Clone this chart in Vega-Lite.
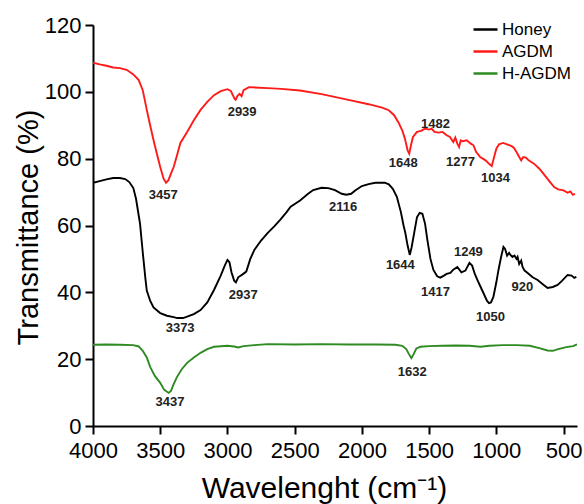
{
  "$schema": "https://vega.github.io/schema/vega-lite/v6.json",
  "width": 484,
  "height": 401,
  "autosize": {"type": "none"},
  "padding": {"left": 93, "top": 25, "right": 7, "bottom": 78},
  "background": "white",
  "config": {
    "view": {"stroke": null},
    "font": "Liberation Sans",
    "axis": {
      "grid": false,
      "domainColor": "#000000",
      "domainWidth": 2,
      "tickColor": "#000000",
      "tickWidth": 2,
      "labelColor": "#000000",
      "titleColor": "#000000",
      "labelFont": "Liberation Sans",
      "titleFont": "Liberation Sans",
      "titleFontWeight": "normal",
      "labelFontSize": 22,
      "labelOverlap": false,
      "labelFlush": false
    }
  },
  "datasets": {
    "spectra": [
      {"series": "AGDM", "wn": 4000, "t": 108.7},
      {"series": "AGDM", "wn": 3950, "t": 108.2},
      {"series": "AGDM", "wn": 3900, "t": 107.8},
      {"series": "AGDM", "wn": 3850, "t": 107.3},
      {"series": "AGDM", "wn": 3800, "t": 107.1},
      {"series": "AGDM", "wn": 3750, "t": 106.6},
      {"series": "AGDM", "wn": 3700, "t": 105.2},
      {"series": "AGDM", "wn": 3660, "t": 103.5},
      {"series": "AGDM", "wn": 3630, "t": 100.5},
      {"series": "AGDM", "wn": 3600, "t": 94.6},
      {"series": "AGDM", "wn": 3575, "t": 90},
      {"series": "AGDM", "wn": 3550, "t": 85.6},
      {"series": "AGDM", "wn": 3525, "t": 81.5},
      {"series": "AGDM", "wn": 3500, "t": 77.5},
      {"series": "AGDM", "wn": 3475, "t": 74},
      {"series": "AGDM", "wn": 3457, "t": 72.8},
      {"series": "AGDM", "wn": 3440, "t": 73.5},
      {"series": "AGDM", "wn": 3420, "t": 75.5},
      {"series": "AGDM", "wn": 3400, "t": 77.5},
      {"series": "AGDM", "wn": 3375, "t": 81},
      {"series": "AGDM", "wn": 3350, "t": 84.7},
      {"series": "AGDM", "wn": 3300, "t": 88},
      {"series": "AGDM", "wn": 3250, "t": 91.5},
      {"series": "AGDM", "wn": 3200, "t": 94.6},
      {"series": "AGDM", "wn": 3150, "t": 97},
      {"series": "AGDM", "wn": 3100, "t": 99},
      {"series": "AGDM", "wn": 3050, "t": 100.2},
      {"series": "AGDM", "wn": 3000, "t": 100.8},
      {"series": "AGDM", "wn": 2975, "t": 100.3},
      {"series": "AGDM", "wn": 2960, "t": 99},
      {"series": "AGDM", "wn": 2945, "t": 97.8},
      {"series": "AGDM", "wn": 2939, "t": 97.6},
      {"series": "AGDM", "wn": 2925, "t": 98.8},
      {"series": "AGDM", "wn": 2910, "t": 99.4},
      {"series": "AGDM", "wn": 2895, "t": 98.7},
      {"series": "AGDM", "wn": 2880, "t": 100.5},
      {"series": "AGDM", "wn": 2840, "t": 101.4},
      {"series": "AGDM", "wn": 2700, "t": 101.1},
      {"series": "AGDM", "wn": 2600, "t": 100.9},
      {"series": "AGDM", "wn": 2460, "t": 100.4},
      {"series": "AGDM", "wn": 2300, "t": 99.3},
      {"series": "AGDM", "wn": 2100, "t": 97.6},
      {"series": "AGDM", "wn": 1950, "t": 96.3},
      {"series": "AGDM", "wn": 1850, "t": 95.3},
      {"series": "AGDM", "wn": 1800, "t": 94.5},
      {"series": "AGDM", "wn": 1760, "t": 93},
      {"series": "AGDM", "wn": 1730, "t": 91},
      {"series": "AGDM", "wn": 1700, "t": 88.5},
      {"series": "AGDM", "wn": 1680, "t": 86},
      {"series": "AGDM", "wn": 1660, "t": 82.5},
      {"series": "AGDM", "wn": 1648, "t": 81.5},
      {"series": "AGDM", "wn": 1635, "t": 84},
      {"series": "AGDM", "wn": 1620, "t": 86.5},
      {"series": "AGDM", "wn": 1590, "t": 88},
      {"series": "AGDM", "wn": 1560, "t": 88.3},
      {"series": "AGDM", "wn": 1530, "t": 89},
      {"series": "AGDM", "wn": 1500, "t": 88.7},
      {"series": "AGDM", "wn": 1482, "t": 89},
      {"series": "AGDM", "wn": 1460, "t": 88},
      {"series": "AGDM", "wn": 1430, "t": 87.8},
      {"series": "AGDM", "wn": 1400, "t": 88},
      {"series": "AGDM", "wn": 1370, "t": 87},
      {"series": "AGDM", "wn": 1345, "t": 86.5},
      {"series": "AGDM", "wn": 1320, "t": 85},
      {"series": "AGDM", "wn": 1305, "t": 86.3},
      {"series": "AGDM", "wn": 1290, "t": 84.5},
      {"series": "AGDM", "wn": 1277, "t": 83.5},
      {"series": "AGDM", "wn": 1265, "t": 85.5},
      {"series": "AGDM", "wn": 1250, "t": 85.2},
      {"series": "AGDM", "wn": 1220, "t": 85.5},
      {"series": "AGDM", "wn": 1190, "t": 84.5},
      {"series": "AGDM", "wn": 1170, "t": 84},
      {"series": "AGDM", "wn": 1150, "t": 82},
      {"series": "AGDM", "wn": 1120, "t": 80.5},
      {"series": "AGDM", "wn": 1080, "t": 79.5},
      {"series": "AGDM", "wn": 1050, "t": 78.3},
      {"series": "AGDM", "wn": 1034, "t": 77.8},
      {"series": "AGDM", "wn": 1020, "t": 80},
      {"series": "AGDM", "wn": 1000, "t": 83},
      {"series": "AGDM", "wn": 980, "t": 84.3},
      {"series": "AGDM", "wn": 950, "t": 84.7},
      {"series": "AGDM", "wn": 920, "t": 84.3},
      {"series": "AGDM", "wn": 890, "t": 83.8},
      {"series": "AGDM", "wn": 870, "t": 83.3},
      {"series": "AGDM", "wn": 850, "t": 82},
      {"series": "AGDM", "wn": 830, "t": 80.5},
      {"series": "AGDM", "wn": 815, "t": 79.5},
      {"series": "AGDM", "wn": 800, "t": 80.5},
      {"series": "AGDM", "wn": 780, "t": 80.3},
      {"series": "AGDM", "wn": 760, "t": 79.5},
      {"series": "AGDM", "wn": 720, "t": 78.5},
      {"series": "AGDM", "wn": 680, "t": 77},
      {"series": "AGDM", "wn": 640, "t": 75},
      {"series": "AGDM", "wn": 600, "t": 73},
      {"series": "AGDM", "wn": 570, "t": 71.5},
      {"series": "AGDM", "wn": 540, "t": 70.8},
      {"series": "AGDM", "wn": 500, "t": 70.5},
      {"series": "AGDM", "wn": 470, "t": 69.8},
      {"series": "AGDM", "wn": 450, "t": 70.2},
      {"series": "AGDM", "wn": 430, "t": 69.2},
      {"series": "AGDM", "wn": 415, "t": 69.5},

      {"series": "Honey", "wn": 4000, "t": 72.8},
      {"series": "Honey", "wn": 3950, "t": 73.3},
      {"series": "Honey", "wn": 3900, "t": 73.8},
      {"series": "Honey", "wn": 3850, "t": 74.2},
      {"series": "Honey", "wn": 3800, "t": 74.2},
      {"series": "Honey", "wn": 3760, "t": 73.9},
      {"series": "Honey", "wn": 3730, "t": 73},
      {"series": "Honey", "wn": 3700, "t": 71.2},
      {"series": "Honey", "wn": 3680, "t": 68},
      {"series": "Honey", "wn": 3660, "t": 63},
      {"series": "Honey", "wn": 3650, "t": 60.5},
      {"series": "Honey", "wn": 3630, "t": 52},
      {"series": "Honey", "wn": 3610, "t": 44},
      {"series": "Honey", "wn": 3600, "t": 40.5},
      {"series": "Honey", "wn": 3575, "t": 37.5},
      {"series": "Honey", "wn": 3550, "t": 35.5},
      {"series": "Honey", "wn": 3500, "t": 33.8},
      {"series": "Honey", "wn": 3450, "t": 33},
      {"series": "Honey", "wn": 3400, "t": 32.6},
      {"series": "Honey", "wn": 3373, "t": 32.3},
      {"series": "Honey", "wn": 3330, "t": 32.3},
      {"series": "Honey", "wn": 3300, "t": 32.7},
      {"series": "Honey", "wn": 3250, "t": 33.5},
      {"series": "Honey", "wn": 3200, "t": 34.7},
      {"series": "Honey", "wn": 3150, "t": 37},
      {"series": "Honey", "wn": 3100, "t": 40.7},
      {"series": "Honey", "wn": 3050, "t": 45},
      {"series": "Honey", "wn": 3020, "t": 48},
      {"series": "Honey", "wn": 3000, "t": 49.7},
      {"series": "Honey", "wn": 2985, "t": 49},
      {"series": "Honey", "wn": 2970, "t": 46},
      {"series": "Honey", "wn": 2950, "t": 43.5},
      {"series": "Honey", "wn": 2937, "t": 43},
      {"series": "Honey", "wn": 2920, "t": 44.5},
      {"series": "Honey", "wn": 2890, "t": 45.3},
      {"series": "Honey", "wn": 2860, "t": 46.2},
      {"series": "Honey", "wn": 2830, "t": 50},
      {"series": "Honey", "wn": 2800, "t": 52.7},
      {"series": "Honey", "wn": 2750, "t": 55.5},
      {"series": "Honey", "wn": 2700, "t": 57.8},
      {"series": "Honey", "wn": 2650, "t": 59.8},
      {"series": "Honey", "wn": 2608, "t": 61.7},
      {"series": "Honey", "wn": 2560, "t": 64},
      {"series": "Honey", "wn": 2530, "t": 65.6},
      {"series": "Honey", "wn": 2460, "t": 67.5},
      {"series": "Honey", "wn": 2400, "t": 69.5},
      {"series": "Honey", "wn": 2362, "t": 70.6},
      {"series": "Honey", "wn": 2300, "t": 71.3},
      {"series": "Honey", "wn": 2250, "t": 71.2},
      {"series": "Honey", "wn": 2200, "t": 70.6},
      {"series": "Honey", "wn": 2150, "t": 69.5},
      {"series": "Honey", "wn": 2116, "t": 69.2},
      {"series": "Honey", "wn": 2080, "t": 69.5},
      {"series": "Honey", "wn": 2050, "t": 70.5},
      {"series": "Honey", "wn": 2000, "t": 71.8},
      {"series": "Honey", "wn": 1950, "t": 72.4},
      {"series": "Honey", "wn": 1900, "t": 72.8},
      {"series": "Honey", "wn": 1830, "t": 72.8},
      {"series": "Honey", "wn": 1800, "t": 72.3},
      {"series": "Honey", "wn": 1770, "t": 71},
      {"series": "Honey", "wn": 1740, "t": 68.6},
      {"series": "Honey", "wn": 1710, "t": 64},
      {"series": "Honey", "wn": 1690, "t": 60},
      {"series": "Honey", "wn": 1677, "t": 57.8},
      {"series": "Honey", "wn": 1660, "t": 54},
      {"series": "Honey", "wn": 1644, "t": 51.2},
      {"series": "Honey", "wn": 1630, "t": 53.5},
      {"series": "Honey", "wn": 1610, "t": 58},
      {"series": "Honey", "wn": 1590, "t": 62.5},
      {"series": "Honey", "wn": 1570, "t": 63.8},
      {"series": "Honey", "wn": 1550, "t": 63.5},
      {"series": "Honey", "wn": 1530, "t": 60.5},
      {"series": "Honey", "wn": 1513, "t": 55.7},
      {"series": "Honey", "wn": 1490, "t": 50},
      {"series": "Honey", "wn": 1468, "t": 46.7},
      {"series": "Honey", "wn": 1440, "t": 44.8},
      {"series": "Honey", "wn": 1417, "t": 44.4},
      {"series": "Honey", "wn": 1390, "t": 45},
      {"series": "Honey", "wn": 1370, "t": 45.5},
      {"series": "Honey", "wn": 1342, "t": 45.8},
      {"series": "Honey", "wn": 1320, "t": 46.8},
      {"series": "Honey", "wn": 1290, "t": 47.6},
      {"series": "Honey", "wn": 1260, "t": 46},
      {"series": "Honey", "wn": 1230, "t": 46.5},
      {"series": "Honey", "wn": 1200, "t": 48.8},
      {"series": "Honey", "wn": 1180, "t": 48},
      {"series": "Honey", "wn": 1160, "t": 45.5},
      {"series": "Honey", "wn": 1141, "t": 43.7},
      {"series": "Honey", "wn": 1110, "t": 41},
      {"series": "Honey", "wn": 1096, "t": 39.8},
      {"series": "Honey", "wn": 1070, "t": 37.5},
      {"series": "Honey", "wn": 1055, "t": 36.8},
      {"series": "Honey", "wn": 1040, "t": 37},
      {"series": "Honey", "wn": 1022, "t": 38.6},
      {"series": "Honey", "wn": 1000, "t": 43},
      {"series": "Honey", "wn": 984, "t": 46.7},
      {"series": "Honey", "wn": 965, "t": 50.5},
      {"series": "Honey", "wn": 947, "t": 53.6},
      {"series": "Honey", "wn": 935, "t": 53},
      {"series": "Honey", "wn": 920, "t": 51},
      {"series": "Honey", "wn": 905, "t": 51.8},
      {"series": "Honey", "wn": 895, "t": 51.2},
      {"series": "Honey", "wn": 880, "t": 50.6},
      {"series": "Honey", "wn": 865, "t": 51},
      {"series": "Honey", "wn": 850, "t": 50},
      {"series": "Honey", "wn": 842, "t": 50.6},
      {"series": "Honey", "wn": 830, "t": 48.5},
      {"series": "Honey", "wn": 815, "t": 49.5},
      {"series": "Honey", "wn": 805, "t": 47.6},
      {"series": "Honey", "wn": 790, "t": 46.5},
      {"series": "Honey", "wn": 767, "t": 45.8},
      {"series": "Honey", "wn": 730, "t": 44.5},
      {"series": "Honey", "wn": 693, "t": 43.7},
      {"series": "Honey", "wn": 650, "t": 42.3},
      {"series": "Honey", "wn": 619, "t": 41.3},
      {"series": "Honey", "wn": 580, "t": 41.6},
      {"series": "Honey", "wn": 544, "t": 42.2},
      {"series": "Honey", "wn": 510, "t": 43.5},
      {"series": "Honey", "wn": 470, "t": 45.2},
      {"series": "Honey", "wn": 440, "t": 45},
      {"series": "Honey", "wn": 420, "t": 44.3},
      {"series": "Honey", "wn": 405, "t": 44.6},

      {"series": "H-AGDM", "wn": 4000, "t": 24.3},
      {"series": "H-AGDM", "wn": 3900, "t": 24.4},
      {"series": "H-AGDM", "wn": 3800, "t": 24.3},
      {"series": "H-AGDM", "wn": 3700, "t": 24.2},
      {"series": "H-AGDM", "wn": 3660, "t": 23.8},
      {"series": "H-AGDM", "wn": 3630, "t": 22.5},
      {"series": "H-AGDM", "wn": 3600, "t": 20.5},
      {"series": "H-AGDM", "wn": 3575, "t": 17.7},
      {"series": "H-AGDM", "wn": 3540, "t": 15},
      {"series": "H-AGDM", "wn": 3500, "t": 12.9},
      {"series": "H-AGDM", "wn": 3470, "t": 10.8},
      {"series": "H-AGDM", "wn": 3437, "t": 9.9},
      {"series": "H-AGDM", "wn": 3420, "t": 10.5},
      {"series": "H-AGDM", "wn": 3400, "t": 12.5},
      {"series": "H-AGDM", "wn": 3375, "t": 14.7},
      {"series": "H-AGDM", "wn": 3340, "t": 17},
      {"series": "H-AGDM", "wn": 3300, "t": 18.9},
      {"series": "H-AGDM", "wn": 3250, "t": 20.5},
      {"series": "H-AGDM", "wn": 3200, "t": 21.9},
      {"series": "H-AGDM", "wn": 3150, "t": 23},
      {"series": "H-AGDM", "wn": 3100, "t": 23.7},
      {"series": "H-AGDM", "wn": 3000, "t": 24},
      {"series": "H-AGDM", "wn": 2950, "t": 23.8},
      {"series": "H-AGDM", "wn": 2920, "t": 23.5},
      {"series": "H-AGDM", "wn": 2880, "t": 23.9},
      {"series": "H-AGDM", "wn": 2800, "t": 24.2},
      {"series": "H-AGDM", "wn": 2700, "t": 24.5},
      {"series": "H-AGDM", "wn": 2500, "t": 24.4},
      {"series": "H-AGDM", "wn": 2300, "t": 24.5},
      {"series": "H-AGDM", "wn": 2100, "t": 24.4},
      {"series": "H-AGDM", "wn": 1900, "t": 24.4},
      {"series": "H-AGDM", "wn": 1750, "t": 24.3},
      {"series": "H-AGDM", "wn": 1700, "t": 24},
      {"series": "H-AGDM", "wn": 1670, "t": 23},
      {"series": "H-AGDM", "wn": 1650, "t": 21.5},
      {"series": "H-AGDM", "wn": 1632, "t": 20.3},
      {"series": "H-AGDM", "wn": 1615, "t": 21.5},
      {"series": "H-AGDM", "wn": 1595, "t": 23.2},
      {"series": "H-AGDM", "wn": 1565, "t": 23.7},
      {"series": "H-AGDM", "wn": 1500, "t": 23.9},
      {"series": "H-AGDM", "wn": 1400, "t": 24},
      {"series": "H-AGDM", "wn": 1300, "t": 24.1},
      {"series": "H-AGDM", "wn": 1200, "t": 24},
      {"series": "H-AGDM", "wn": 1118, "t": 23.7},
      {"series": "H-AGDM", "wn": 1050, "t": 24},
      {"series": "H-AGDM", "wn": 950, "t": 24.2},
      {"series": "H-AGDM", "wn": 850, "t": 24.2},
      {"series": "H-AGDM", "wn": 750, "t": 24},
      {"series": "H-AGDM", "wn": 680, "t": 23.3},
      {"series": "H-AGDM", "wn": 620, "t": 22.6},
      {"series": "H-AGDM", "wn": 580, "t": 22.5},
      {"series": "H-AGDM", "wn": 540, "t": 23},
      {"series": "H-AGDM", "wn": 480, "t": 23.6},
      {"series": "H-AGDM", "wn": 430, "t": 23.9},
      {"series": "H-AGDM", "wn": 400, "t": 24.4}
    ],
    "labels": [
      {"label": "3457", "wn": 3478, "t": 69},
      {"label": "2939", "wn": 2891, "t": 94},
      {"label": "1648", "wn": 1692, "t": 78.7},
      {"label": "1482", "wn": 1453, "t": 90.4},
      {"label": "1277", "wn": 1267, "t": 79},
      {"label": "1034", "wn": 1007, "t": 74.2},
      {"label": "2116", "wn": 2139, "t": 65.6},
      {"label": "3373", "wn": 3352, "t": 29.3},
      {"label": "2937", "wn": 2883, "t": 39.2},
      {"label": "3437", "wn": 3427, "t": 7.2},
      {"label": "1644", "wn": 1714, "t": 48.2},
      {"label": "1417", "wn": 1453, "t": 40.1},
      {"label": "1249", "wn": 1208, "t": 52.1},
      {"label": "1050", "wn": 1044, "t": 32.6},
      {"label": "920", "wn": 806, "t": 41.6},
      {"label": "1632", "wn": 1625, "t": 16.2}
    ]
  },
  "layer": [
    {
      "data": {"name": "spectra"},
      "mark": {"type": "line", "strokeWidth": 1.9, "clip": true},
      "encoding": {
        "x": {
          "field": "wn", "type": "quantitative",
          "scale": {"domain": [400, 4000], "reverse": true, "nice": false, "zero": false},
          "axis": {
            "values": [4000, 3750, 3500, 3250, 3000, 2750, 2500, 2250, 2000, 1750, 1500, 1250, 1000, 750, 500],
            "labelExpr": "datum.value % 500 === 0 ? format(datum.value, 'd') : ''",
            "tickSize": {"condition": {"test": "datum.value % 500 === 0", "value": 8}, "value": 5},
            "labelPadding": 6,
            "title": "Wavelenght (cm⁻¹)", "titleFontSize": 30,
            "titleX": 231, "titleY": 71, "titleAlign": "center", "titleBaseline": "alphabetic"
          }
        },
        "y": {
          "field": "t", "type": "quantitative",
          "scale": {"domain": [0, 120], "nice": false},
          "axis": {
            "values": [0, 10, 20, 30, 40, 50, 60, 70, 80, 90, 100, 110, 120],
            "labelExpr": "datum.value % 20 === 0 ? datum.label : ''",
            "tickSize": {"condition": {"test": "datum.value % 20 === 0", "value": 8}, "value": 4},
            "labelPadding": 4,
            "title": "Transmittance (%)", "titleFontSize": 29,
            "titleX": -56, "titleY": 202, "titleAngle": -90, "titleAlign": "center", "titleBaseline": "alphabetic"
          }
        },
        "color": {
          "field": "series", "type": "nominal",
          "scale": {"domain": ["Honey", "AGDM", "H-AGDM"], "range": ["#000000", "#ff1a1a", "#2e8b22"]},
          "legend": {
            "title": null, "orient": "none", "legendX": 379, "legendY": -9,
            "symbolType": "stroke", "symbolSize": 576, "symbolStrokeWidth": 2.5,
            "labelFont": "Liberation Sans", "labelFontSize": 17, "labelColor": "#000000",
            "labelOffset": 3, "rowPadding": 0
          }
        }
      }
    },
    {
      "data": {"name": "labels"},
      "mark": {"type": "text", "font": "Liberation Sans", "fontSize": 13, "fontWeight": "bold", "color": "#222222"},
      "encoding": {
        "x": {"field": "wn", "type": "quantitative"},
        "y": {"field": "t", "type": "quantitative"},
        "text": {"field": "label"}
      }
    }
  ]
}
